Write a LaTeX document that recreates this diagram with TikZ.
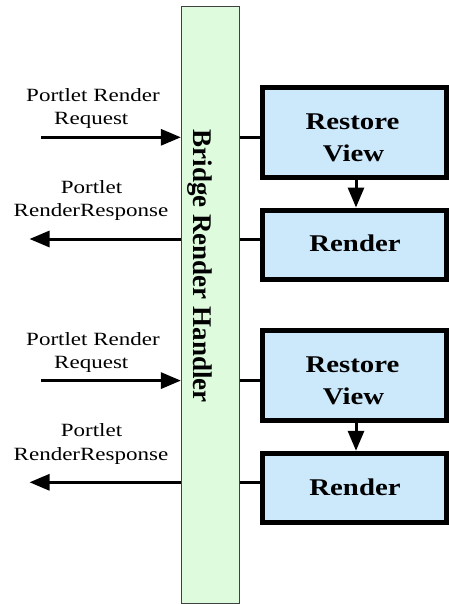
\documentclass[tikz,border=0pt]{standalone}
\usepackage{fontspec}
\setmainfont{Liberation Serif}
\usetikzlibrary{arrows.meta}
\definecolor{barfill}{RGB}{222,251,222}
\definecolor{boxfill}{RGB}{204,232,251}
\newcommand\wlbl[1]{\scalebox{1.23}[1]{#1}}
\newcommand\wbox[1]{\scalebox{1.2}[1]{#1}}
\begin{document}
\begin{tikzpicture}[x=1pt,y=-1pt,
  stepbox/.style={draw=black, line width=5pt, fill=boxfill, minimum width=183.5pt, inner sep=0pt},
  lbl/.style={font=\rmfamily\fontsize{18.7}{22}\selectfont, anchor=base, inner sep=0pt},
  btxt/.style={font=\rmfamily\bfseries\fontsize{24}{28}\selectfont, anchor=base, inner sep=0pt},
  conn/.style={line width=3pt},
  arr/.style={line width=3pt, -{Triangle[length=20pt,width=16pt]}},
]
\useasboundingbox (0,0) rectangle (448,604);
\node[draw=black!75, line width=1.2pt, fill=barfill, minimum width=58pt, minimum height=597pt, inner sep=0pt] (bar) at (210.5,305) {};
\node[rotate=-90, anchor=base west, inner sep=0pt, font=\rmfamily\bfseries\fontsize{27}{30}\selectfont] (bartxt) at (193,129.5) {Bridge Render Handler};
\foreach \i/\dy in {1/0, 2/243.3}{
  \node[stepbox, minimum height=90pt] (rv\i) at (354.25, 132.5+\dy) {};
  \node[stepbox, minimum height=69.5pt] (rn\i) at (354.25, 244.75+\dy) {};
  \node[btxt] (rvt\i) at (352.5, 129.3+\dy) {\wbox{Restore}};
  \node[btxt] (rvv\i) at (353.5, 161+\dy) {\wbox{View}};
  \node[btxt] (rnt\i) at (355, 251.7+\dy) {\wbox{Render}};
  \node[lbl] (qa\i) at (93, 101.7+\dy) {\wlbl{Portlet Render}};
  \node[lbl] (qb\i) at (91.3, 125+\dy) {\wlbl{Request}};
  \node[lbl] (pa\i) at (91.5, 193.3+\dy) {\wlbl{Portlet}};
  \node[lbl] (pb\i) at (91, 216.7+\dy) {\wlbl{RenderResponse}};
  \coordinate (q\i) at (41, 137.3+\dy);
  \coordinate (p\i) at (29.5, 239+\dy);
  \draw[arr] (q\i) -- (q\i -| bar.west);
  \draw[conn] (q\i -| bar.east) -- (q\i -| rv\i.west);
  \draw[arr] (p\i -| bar.west) -- (p\i);
  \draw[conn] (p\i -| bar.east) -- (p\i -| rn\i.west);
  \draw[arr] ([xshift=1.75pt]rv\i.south) -- ([xshift=1.75pt]rn\i.north);
}
\end{tikzpicture}
\end{document}
